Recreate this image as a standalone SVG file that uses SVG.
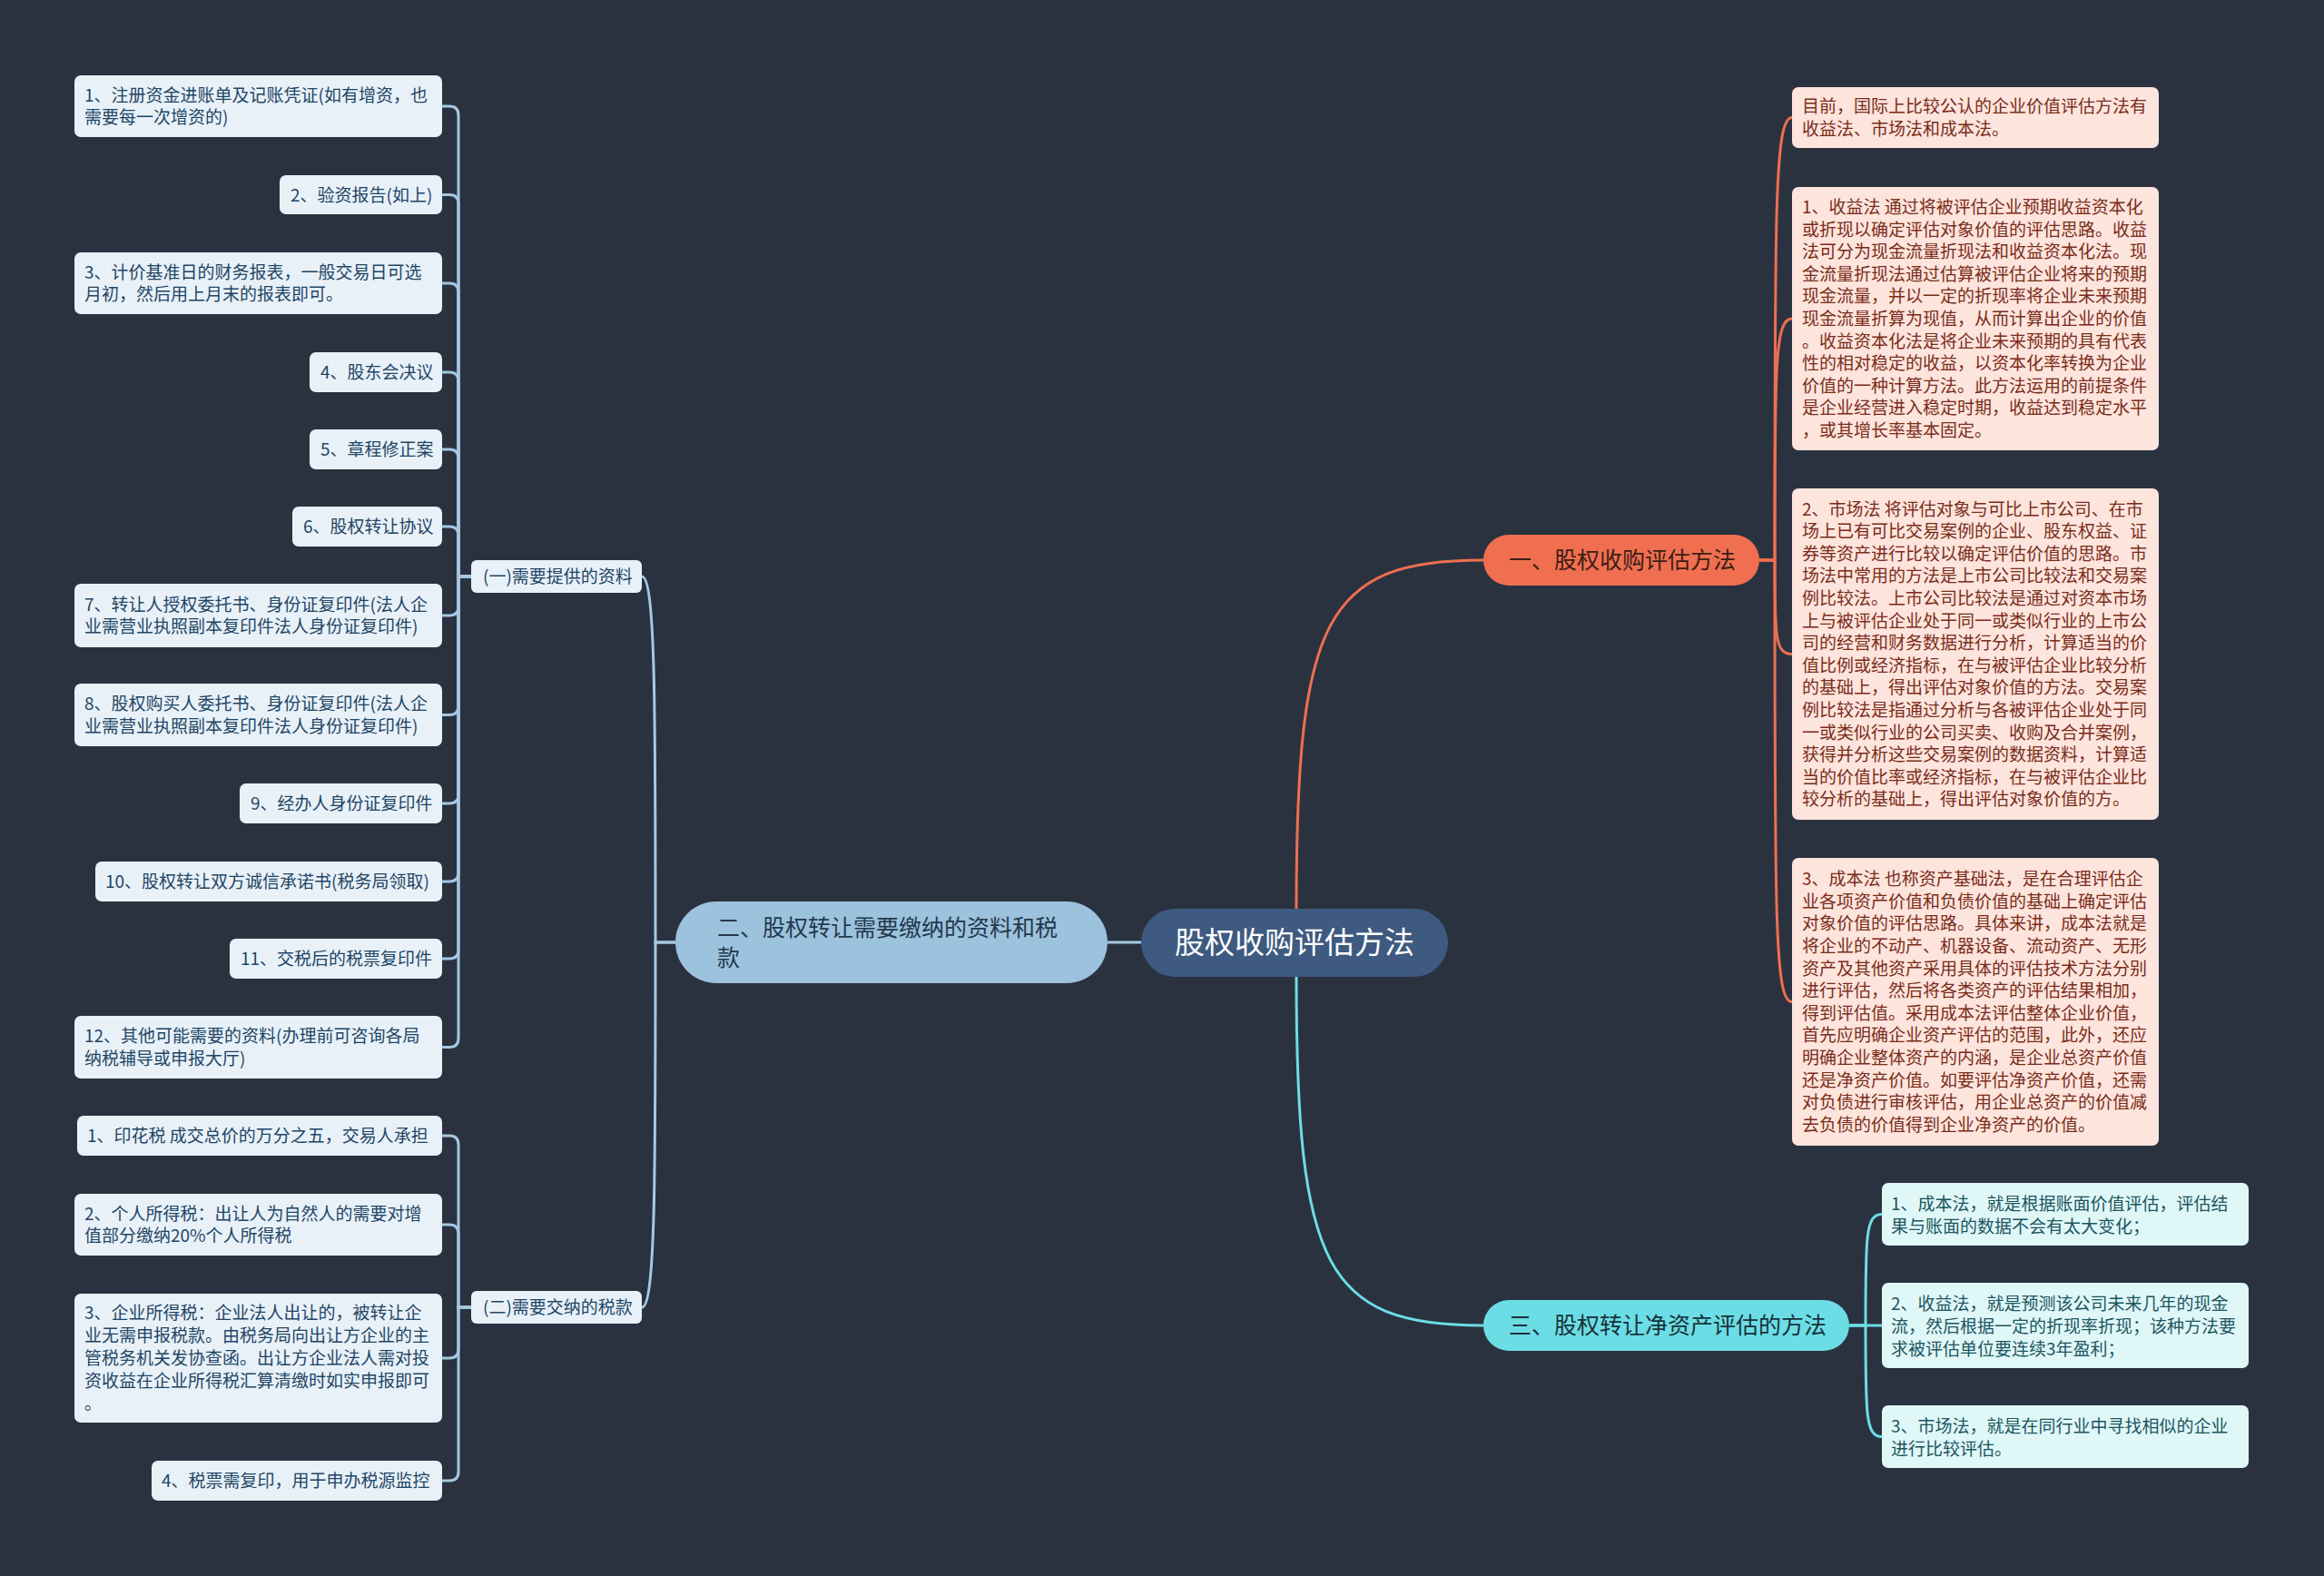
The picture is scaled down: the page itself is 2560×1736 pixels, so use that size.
<svg xmlns="http://www.w3.org/2000/svg" width="2560" height="1736" viewBox="0 0 2560 1736">
<style>
.bg{fill:#2a3240}
.leaf{fill:#e8f1f8}
.oleaf{fill:#fde4dc}
.cleaf{fill:#e0f7f8}
text{font-family:"Noto Sans CJK SC","Noto Sans",sans-serif;font-size:19px}
.lt{fill:#1f4565}
.ot{fill:#7a2c1a}
.ct{fill:#1b5560}
.lc{fill:none;stroke:#a6c8e2;stroke-width:3}
.oc{fill:none;stroke:#ef6f50;stroke-width:3}
.cc{fill:none;stroke:#6cdde5;stroke-width:3}
</style>
<rect class="bg" x="0" y="0" width="2560" height="1736"/>

<g id="connectors">
  <path class="lc" d="M1257 1038 H1220"/>
  <path class="oc" d="M1428 1001 C1428 680 1460 617 1634 617"/>
  <path class="cc" d="M1428 1076 C1428 1397 1460 1460 1634 1460"/>
  <path class="lc" d="M744 1038 H722 C722 780 722 635 707 635"/>
  <path class="lc" d="M744 1038 H722 C722 1296 722 1440 707 1440"/>
  <!-- (一) children -->
  <path class="lc" d="M519 635 H505 V127 Q505 117 495 117 H487"/>
  <path class="lc" d="M519 635 H505 V224.5 Q505 214.5 495 214.5 H487"/>
  <path class="lc" d="M519 635 H505 V322 Q505 312 495 312 H487"/>
  <path class="lc" d="M519 635 H505 V420 Q505 410 495 410 H487"/>
  <path class="lc" d="M519 635 H505 V505 Q505 495 495 495 H487"/>
  <path class="lc" d="M519 635 H505 V590 Q505 580 495 580 H487"/>
  <path class="lc" d="M519 635 H505 V668 Q505 678 495 678 H487"/>
  <path class="lc" d="M519 635 H505 V777.5 Q505 787.5 495 787.5 H487"/>
  <path class="lc" d="M519 635 H505 V875 Q505 885 495 885 H487"/>
  <path class="lc" d="M519 635 H505 V961 Q505 971 495 971 H487"/>
  <path class="lc" d="M519 635 H505 V1046 Q505 1056 495 1056 H487"/>
  <path class="lc" d="M519 635 H505 V1143.5 Q505 1153.5 495 1153.5 H487"/>
  <!-- (二) children -->
  <path class="lc" d="M519 1440 H505 V1261 Q505 1251 495 1251 H487"/>
  <path class="lc" d="M519 1440 H505 V1359 Q505 1349 495 1349 H487"/>
  <path class="lc" d="M519 1440 H505 V1486 Q505 1496 495 1496 H487"/>
  <path class="lc" d="M519 1440 H505 V1621 Q505 1631 495 1631 H487"/>
  <!-- 一 children -->
  <path class="oc" d="M1938 617 H1955 C1955 227 1955 129.5 1974 129.5"/>
  <path class="oc" d="M1938 617 H1955 C1955 404 1955 351 1974 351"/>
  <path class="oc" d="M1938 617 H1955 C1955 700 1955 720.5 1974 720.5"/>
  <path class="oc" d="M1938 617 H1955 C1955 1013 1955 1103.5 1974 1103.5"/>
  <!-- 三 children -->
  <path class="cc" d="M2037 1460 H2055 C2055 1362 2055 1337.5 2073 1337.5"/>
  <path class="cc" d="M2037 1460 H2073"/>
  <path class="cc" d="M2037 1460 H2055 C2055 1558 2055 1582.5 2073 1582.5"/>
</g>

<g id="center">
  <rect x="1257" y="1001" width="338" height="75" rx="37.5" fill="#3e5a80"/>
  <text x="1426" y="1050" text-anchor="middle" style="font-size:33px" fill="#ffffff">股权收购评估方法</text>
</g>

<g id="b2">
  <rect x="744" y="993" width="476" height="90" rx="45" fill="#9cc2dd"/>
  <text style="font-size:25px" fill="#23384d"><tspan x="790" y="1031">二、股权转让需要缴纳的资料和税</tspan><tspan x="790" y="1064">款</tspan></text>
</g>

<g id="b1">
  <rect x="1634" y="589" width="304" height="56" rx="28" fill="#ef6f50"/>
  <text x="1662" y="626" style="font-size:25px" fill="#3c1d15">一、股权收购评估方法</text>
</g>

<g id="b3">
  <rect x="1634" y="1432" width="403" height="56" rx="28" fill="#6cdde5"/>
  <text x="1662" y="1469" style="font-size:25px" fill="#17323a">三、股权转让净资产评估的方法</text>
</g>

<g id="s1">
  <rect class="leaf" x="519" y="617" width="188" height="36" rx="6"/>
  <text class="lt" x="532" y="642">(一)需要提供的资料</text>
</g>
<g id="s2">
  <rect class="leaf" x="519" y="1422" width="188" height="36" rx="6"/>
  <text class="lt" x="532" y="1447">(二)需要交纳的税款</text>
</g>

<g id="l1"><rect class="leaf" x="82" y="83" width="405" height="68" rx="7"/>
<text class="lt"><tspan x="93" y="112">1、注册资金进账单及记账凭证(如有增资，也</tspan><tspan x="93" y="136">需要每一次增资的)</tspan></text></g>
<g id="l2"><rect class="leaf" x="308" y="193" width="179" height="43" rx="7"/>
<text class="lt" x="320" y="221.5">2、验资报告(如上)</text></g>
<g id="l3"><rect class="leaf" x="82" y="278" width="405" height="68" rx="7"/>
<text class="lt"><tspan x="93" y="307">3、计价基准日的财务报表，一般交易日可选</tspan><tspan x="93" y="331">月初，然后用上月末的报表即可。</tspan></text></g>
<g id="l4"><rect class="leaf" x="341" y="388" width="146" height="44" rx="7"/>
<text class="lt" x="353" y="417">4、股东会决议</text></g>
<g id="l5"><rect class="leaf" x="341" y="473" width="146" height="44" rx="7"/>
<text class="lt" x="353" y="502">5、章程修正案</text></g>
<g id="l6"><rect class="leaf" x="322" y="558" width="165" height="44" rx="7"/>
<text class="lt" x="334" y="587">6、股权转让协议</text></g>
<g id="l7"><rect class="leaf" x="82" y="643" width="405" height="70" rx="7"/>
<text class="lt"><tspan x="93" y="673">7、转让人授权委托书、身份证复印件(法人企</tspan><tspan x="93" y="697">业需营业执照副本复印件法人身份证复印件)</tspan></text></g>
<g id="l8"><rect class="leaf" x="82" y="753" width="405" height="69" rx="7"/>
<text class="lt"><tspan x="93" y="782">8、股权购买人委托书、身份证复印件(法人企</tspan><tspan x="93" y="807">业需营业执照副本复印件法人身份证复印件)</tspan></text></g>
<g id="l9"><rect class="leaf" x="264" y="863" width="223" height="44" rx="7"/>
<text class="lt" x="276" y="892">9、经办人身份证复印件</text></g>
<g id="l10"><rect class="leaf" x="105" y="949" width="382" height="44" rx="7"/>
<text class="lt" x="116" y="978">10、股权转让双方诚信承诺书(税务局领取)</text></g>
<g id="l11"><rect class="leaf" x="253" y="1034" width="234" height="44" rx="7"/>
<text class="lt" x="265" y="1063">11、交税后的税票复印件</text></g>
<g id="l12"><rect class="leaf" x="82" y="1119" width="405" height="69" rx="7"/>
<text class="lt"><tspan x="93" y="1148">12、其他可能需要的资料(办理前可咨询各局</tspan><tspan x="93" y="1173">纳税辅导或申报大厅)</tspan></text></g>

<g id="t1"><rect class="leaf" x="85" y="1229" width="402" height="44" rx="7"/>
<text class="lt" x="96" y="1258">1、印花税 成交总价的万分之五，交易人承担</text></g>
<g id="t2"><rect class="leaf" x="82" y="1315" width="405" height="68" rx="7"/>
<text class="lt"><tspan x="93" y="1344">2、个人所得税：出让人为自然人的需要对增</tspan><tspan x="93" y="1368">值部分缴纳20%个人所得税</tspan></text></g>
<g id="t3"><rect class="leaf" x="82" y="1425" width="405" height="142" rx="7"/>
<text class="lt"><tspan x="93" y="1453">3、企业所得税：企业法人出让的，被转让企</tspan><tspan x="93" y="1478">业无需申报税款。由税务局向出让方企业的主</tspan><tspan x="93" y="1503">管税务机关发协查函。出让方企业法人需对投</tspan><tspan x="93" y="1528">资收益在企业所得税汇算清缴时如实申报即可</tspan><tspan x="93" y="1553">。</tspan></text></g>
<g id="t4"><rect class="leaf" x="167" y="1609" width="320" height="44" rx="7"/>
<text class="lt" x="178" y="1638">4、税票需复印，用于申办税源监控</text></g>

<g id="o0"><rect class="oleaf" x="1974" y="96" width="404" height="67" rx="7"/>
<text class="ot"><tspan x="1985" y="124">目前，国际上比较公认的企业价值评估方法有</tspan><tspan x="1985" y="149">收益法、市场法和成本法。</tspan></text></g>
<g id="o1"><rect class="oleaf" x="1974" y="206" width="404" height="290" rx="7"/>
<text class="ot"><tspan x="1985" y="235">1、收益法 通过将被评估企业预期收益资本化</tspan><tspan x="1985" y="259.6">或折现以确定评估对象价值的评估思路。收益</tspan><tspan x="1985" y="284.2">法可分为现金流量折现法和收益资本化法。现</tspan><tspan x="1985" y="308.8">金流量折现法通过估算被评估企业将来的预期</tspan><tspan x="1985" y="333.4">现金流量，并以一定的折现率将企业未来预期</tspan><tspan x="1985" y="358">现金流量折算为现值，从而计算出企业的价值</tspan><tspan x="1985" y="382.6">。收益资本化法是将企业未来预期的具有代表</tspan><tspan x="1985" y="407.2">性的相对稳定的收益，以资本化率转换为企业</tspan><tspan x="1985" y="431.8">价值的一种计算方法。此方法运用的前提条件</tspan><tspan x="1985" y="456.4">是企业经营进入稳定时期，收益达到稳定水平</tspan><tspan x="1985" y="481">，或其增长率基本固定。</tspan></text></g>
<g id="o2"><rect class="oleaf" x="1974" y="538" width="404" height="365" rx="7"/>
<text class="ot"><tspan x="1985" y="567.6">2、市场法 将评估对象与可比上市公司、在市</tspan><tspan x="1985" y="592.2">场上已有可比交易案例的企业、股东权益、证</tspan><tspan x="1985" y="616.8">券等资产进行比较以确定评估价值的思路。市</tspan><tspan x="1985" y="641.4">场法中常用的方法是上市公司比较法和交易案</tspan><tspan x="1985" y="666">例比较法。上市公司比较法是通过对资本市场</tspan><tspan x="1985" y="690.6">上与被评估企业处于同一或类似行业的上市公</tspan><tspan x="1985" y="715.2">司的经营和财务数据进行分析，计算适当的价</tspan><tspan x="1985" y="739.8">值比例或经济指标，在与被评估企业比较分析</tspan><tspan x="1985" y="764.4">的基础上，得出评估对象价值的方法。交易案</tspan><tspan x="1985" y="789">例比较法是指通过分析与各被评估企业处于同</tspan><tspan x="1985" y="813.6">一或类似行业的公司买卖、收购及合并案例，</tspan><tspan x="1985" y="838.2">获得并分析这些交易案例的数据资料，计算适</tspan><tspan x="1985" y="862.8">当的价值比率或经济指标，在与被评估企业比</tspan><tspan x="1985" y="887.4">较分析的基础上，得出评估对象价值的方。</tspan></text></g>
<g id="o3"><rect class="oleaf" x="1974" y="945" width="404" height="317" rx="7"/>
<text class="ot"><tspan x="1985" y="975.2">3、成本法 也称资产基础法，是在合理评估企</tspan><tspan x="1985" y="999.8">业各项资产价值和负债价值的基础上确定评估</tspan><tspan x="1985" y="1024.4">对象价值的评估思路。具体来讲，成本法就是</tspan><tspan x="1985" y="1049">将企业的不动产、机器设备、流动资产、无形</tspan><tspan x="1985" y="1073.6">资产及其他资产采用具体的评估技术方法分别</tspan><tspan x="1985" y="1098.2">进行评估，然后将各类资产的评估结果相加，</tspan><tspan x="1985" y="1122.8">得到评估值。采用成本法评估整体企业价值，</tspan><tspan x="1985" y="1147.4">首先应明确企业资产评估的范围，此外，还应</tspan><tspan x="1985" y="1172">明确企业整体资产的内涵，是企业总资产价值</tspan><tspan x="1985" y="1196.6">还是净资产价值。如要评估净资产价值，还需</tspan><tspan x="1985" y="1221.2">对负债进行审核评估，用企业总资产的价值减</tspan><tspan x="1985" y="1245.8">去负债的价值得到企业净资产的价值。</tspan></text></g>

<g id="c1"><rect class="cleaf" x="2073" y="1303" width="404" height="69" rx="7"/>
<text class="ct"><tspan x="2083" y="1333">1、成本法，就是根据账面价值评估，评估结</tspan><tspan x="2083" y="1358">果与账面的数据不会有太大变化；</tspan></text></g>
<g id="c2"><rect class="cleaf" x="2073" y="1413" width="404" height="94" rx="7"/>
<text class="ct"><tspan x="2083" y="1443">2、收益法，就是预测该公司未来几年的现金</tspan><tspan x="2083" y="1468">流，然后根据一定的折现率折现；该种方法要</tspan><tspan x="2083" y="1493">求被评估单位要连续3年盈利；</tspan></text></g>
<g id="c3"><rect class="cleaf" x="2073" y="1548" width="404" height="69" rx="7"/>
<text class="ct"><tspan x="2083" y="1578">3、市场法，就是在同行业中寻找相似的企业</tspan><tspan x="2083" y="1603">进行比较评估。</tspan></text></g>
</svg>
